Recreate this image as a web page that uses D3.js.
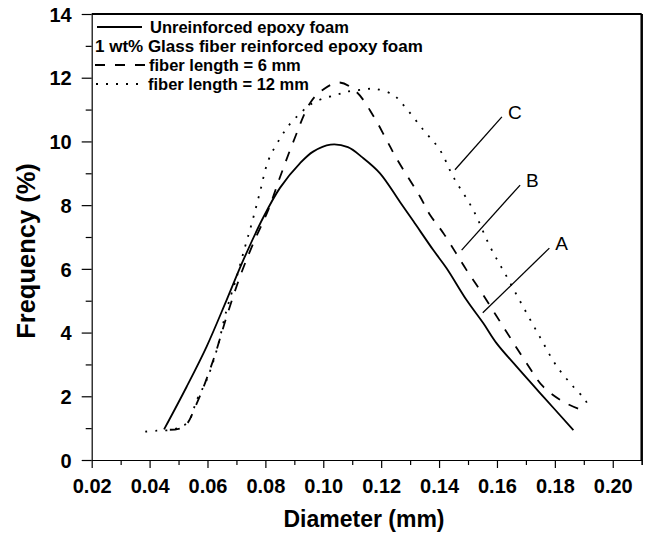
<!DOCTYPE html>
<html>
<head>
<meta charset="utf-8">
<script src="https://cdn.jsdelivr.net/npm/d3@7"></script>
<style>
  body { margin: 0; background: #fff; }
  svg { display: block; font-family: "Liberation Sans", Arial, Helvetica, sans-serif; }
</style>
</head>
<body>
<svg id="chart" width="651" height="536"></svg>
<script>
// ---- data ----
const xTicks = [0.02, 0.04, 0.06, 0.08, 0.10, 0.12, 0.14, 0.16, 0.18, 0.20];
const yTicks = [0, 2, 4, 6, 8, 10, 12, 14];

// A: Unreinforced epoxy foam (solid)
const diamA = [0.045, 0.0528, 0.0597, 0.0666, 0.0724, 0.0793, 0.0851, 0.092, 0.0965, 0.1025, 0.1085, 0.1135, 0.1196, 0.1265, 0.1311, 0.138, 0.1426, 0.1495, 0.1553, 0.1599, 0.1668, 0.176, 0.1864];
const freqA = [0.96, 2.30, 3.56, 5.02, 6.28, 7.62, 8.55, 9.32, 9.68, 9.90, 9.82, 9.50, 9.0, 8.1, 7.50, 6.59, 6.02, 5.02, 4.29, 3.66, 2.93, 1.99, 0.94];

// B: fiber length = 6 mm (dashed)
const diamB = [0.047, 0.052, 0.0563, 0.062, 0.0666, 0.0712, 0.0758, 0.081, 0.0851, 0.0897, 0.0954, 0.0995, 0.1055, 0.1115, 0.1173, 0.1219, 0.1254, 0.1334, 0.1369, 0.1415, 0.1495, 0.1541, 0.1622, 0.1703, 0.176, 0.1829, 0.1898];
const freqB = [0.95, 1.05, 1.78, 3.14, 4.50, 5.75, 6.80, 7.85, 8.89, 10.0, 11.2, 11.6, 11.85, 11.55, 10.8, 10.04, 9.45, 8.27, 7.69, 7.12, 5.96, 5.34, 4.18, 3.03, 2.30, 1.83, 1.55];

// C: fiber length = 12 mm (dotted)
const diamC = [0.0385, 0.0425, 0.047, 0.0505, 0.0534, 0.0563, 0.0597, 0.0632, 0.0666, 0.0701, 0.073, 0.0753, 0.0781, 0.081, 0.0851, 0.0885, 0.092, 0.0954, 0.1, 0.1046, 0.1081, 0.113, 0.118, 0.1242, 0.1277, 0.1346, 0.1403, 0.1449, 0.1518, 0.1576, 0.1634, 0.1691, 0.1749, 0.1806, 0.1864, 0.1904, 0.192];
const freqC = [0.89, 0.92, 0.94, 1.03, 1.2, 1.88, 2.51, 3.45, 4.71, 5.75, 6.70, 7.43, 8.4, 9.4, 10.1, 10.55, 10.88, 11.15, 11.35, 11.46, 11.56, 11.62, 11.65, 11.46, 11.14, 10.36, 9.73, 8.89, 7.85, 6.70, 5.75, 4.8, 3.85, 2.95, 2.3, 1.9, 1.6];

const legendLabels = ["Unreinforced epoxy foam", "1 wt% Glass fiber reinforced epoxy foam", "fiber length = 6 mm", "fiber length = 12 mm"];

// annotation letters with leader lines (data units)
const annoNames = ["C", "B", "A"];
const annoFrom = [[0.1617, 10.77], [0.1680, 8.63], [0.1781, 6.65]];
const annoTo = [[0.1455, 9.11], [0.1478, 6.59], [0.1551, 4.62]];

// ---- layout ----
const L = 91.7, R = 641.7, T = 14, B = 460;
const svg = d3.select("#chart");
const x = d3.scaleLinear().domain([0.02, 0.21]).range([L, R]);
const y = d3.scaleLinear().domain([0, 14]).range([B, T]);

// minor ticks
const xMinor = d3.range(0.03, 0.211, 0.02);
const yMinor = d3.range(1, 14, 2);

// x axis
const gx = svg.append("g").attr("transform", `translate(0,${B})`);
gx.call(d3.axisBottom(x).tickValues(xTicks).tickSize(8).tickSizeOuter(0).tickFormat(d3.format(".2f")));
gx.append("g").call(d3.axisBottom(x).tickValues(xMinor.concat([0.21])).tickSize(5).tickFormat(""))
  .select(".domain").remove();
// y axis
const gy = svg.append("g").attr("transform", `translate(${L},0)`);
gy.call(d3.axisLeft(y).tickValues(yTicks).tickSize(10).tickSizeOuter(0).tickFormat(d3.format("d")));
gy.append("g").call(d3.axisLeft(y).tickValues(yMinor).tickSize(6).tickFormat(""))
  .select(".domain").remove();

svg.selectAll(".domain").attr("stroke", "#000").attr("stroke-width", 1.2);
svg.selectAll(".tick line").attr("stroke", "#000").attr("stroke-width", 1.2);
gx.selectAll(".tick text").attr("font-size", 20).attr("font-weight", "bold").attr("dy", "0.71em").attr("y", 19).attr("fill", "#000");
gy.selectAll(".tick text").attr("font-size", 20).attr("font-weight", "bold").attr("x", -20).attr("dy", "0.36em").attr("fill", "#000");
svg.selectAll("g").attr("font-family", null);

// frame top & right
svg.append("line").attr("x1", x(0.02)).attr("x2", x(0.21)).attr("y1", y(14)).attr("y2", y(14)).attr("stroke", "#000").attr("stroke-width", 2);
svg.append("line").attr("x1", x(0.21)).attr("x2", x(0.21)).attr("y1", y(14)).attr("y2", y(0)).attr("stroke", "#000").attr("stroke-width", 2.5);

// axis titles
svg.append("text").attr("x", 364).attr("y", 527).attr("text-anchor", "middle")
  .attr("font-size", 23).attr("font-weight", "bold").text("Diameter (mm)");
svg.append("text").attr("transform", "translate(35,251) rotate(-90)").attr("text-anchor", "middle")
  .attr("font-size", 25.5).attr("font-weight", "bold").text("Frequency (%)");

// curves
const line = d3.line().x(d => x(d[0])).y(d => y(d[1])).curve(d3.curveCatmullRom.alpha(0.5));
const series = [
  { d: diamA, f: freqA, dash: null },
  { d: diamB, f: freqB, dash: "10,10" },
  { d: diamC, f: freqC, dash: "2,8" }
];
series.forEach(s => {
  svg.append("path").datum(s.d.map((v, i) => [v, s.f[i]]))
    .attr("d", line).attr("fill", "none").attr("stroke", "#000")
    .attr("stroke-width", 1.8).attr("stroke-dasharray", s.dash);
});

// leader lines and letters
annoNames.forEach((n, i) => {
  svg.append("line").attr("x1", x(annoFrom[i][0])).attr("y1", y(annoFrom[i][1]))
    .attr("x2", x(annoTo[i][0])).attr("y2", y(annoTo[i][1])).attr("stroke", "#000").attr("stroke-width", 1.3);
  svg.append("text").attr("x", x(annoFrom[i][0]) + 6).attr("y", y(annoFrom[i][1]) + 2)
    .attr("font-size", 19).text(n);
});

// legend
const lg = svg.append("g").attr("font-weight", "bold").attr("font-size", 16.5);
const rowY = [27, 46, 65, 84];
lg.append("line").attr("x1", 97).attr("x2", 142).attr("y1", rowY[0]).attr("y2", rowY[0]).attr("stroke", "#000").attr("stroke-width", 1.8);
lg.append("line").attr("x1", 95).attr("x2", 146).attr("y1", rowY[2]).attr("y2", rowY[2]).attr("stroke", "#000").attr("stroke-width", 1.8).attr("stroke-dasharray", "10,10");
lg.append("line").attr("x1", 96).attr("x2", 140).attr("y1", rowY[3]).attr("y2", rowY[3]).attr("stroke", "#000").attr("stroke-width", 1.8).attr("stroke-dasharray", "2,8");
lg.append("text").attr("x", 150).attr("y", rowY[0]).attr("dy", "0.35em").text(legendLabels[0]);
lg.append("text").attr("x", 95).attr("y", rowY[1]).attr("dy", "0.35em").attr("font-size", 17).text(legendLabels[1]);
lg.append("text").attr("x", 149).attr("y", rowY[2]).attr("dy", "0.35em").text(legendLabels[2]);
lg.append("text").attr("x", 148).attr("y", rowY[3]).attr("dy", "0.35em").text(legendLabels[3]);
</script>
</body>
</html>
